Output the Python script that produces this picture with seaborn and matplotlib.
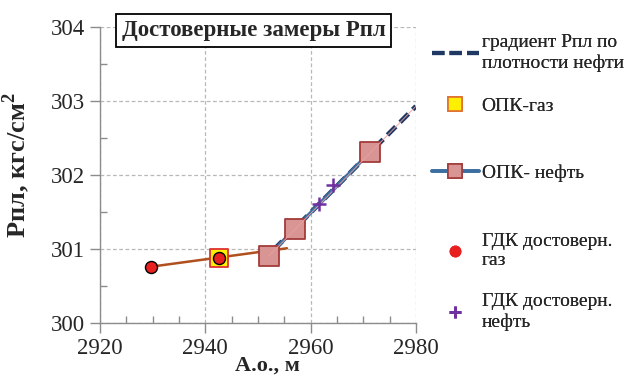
import matplotlib
matplotlib.use("Agg")
import matplotlib.pyplot as plt
import seaborn as sns
import numpy as np
import pandas as pd
from matplotlib.lines import Line2D
from matplotlib.ticker import MultipleLocator

# ---- data ----
gdk_gas_x = [2929.6, 2942.5]
gdk_gas_y = [300.76, 300.88]
gdk_oil_x = [2961.6, 2964.3]
gdk_oil_y = [301.61, 301.87]
opk_gas_x = [2942.5]
opk_gas_y = [300.88]
opk_oil_x = [2952.0, 2957.0, 2971.3]
opk_oil_y = [300.90, 301.27, 302.31]
gas_trend_x = [2929.6, 2955.5]
gas_trend_y = [300.76, 301.01]
gradient_x = [2953.0, 2980.0]
gradient_y = [300.99, 302.93]
oil_line_x = [2953.4, 2971.3]
oil_line_y = [301.01, 302.31]
oil_trend_x = [2952.0, 2980.0]
oil_trend_y = [300.90, 302.93]

sns.set_style("white")
plt.rcParams['font.family'] = ['Liberation Serif', 'DejaVu Serif']
plt.rcParams['mathtext.fontset'] = 'custom'
plt.rcParams['mathtext.rm'] = 'Liberation Serif'
plt.rcParams['mathtext.bf'] = 'Liberation Serif:bold'

fig = plt.figure(figsize=(6.26, 3.76), dpi=100)
ax = fig.add_axes([100/626, 53/376, 316/626, 296/376])

c_brown = '#B0501E'
c_blue = '#3C6E9F'
c_navy = '#1F3864'
c_pink = '#D99594'
c_pink_edge = '#A33B3B'

sns.lineplot(x=gas_trend_x, y=gas_trend_y, ax=ax, color=c_brown, lw=1.8, zorder=3)
sns.lineplot(x=gradient_x, y=gradient_y, ax=ax, color=c_navy, lw=3.4,
             linestyle=(0, (2.5, 1.3)), zorder=3)
sns.lineplot(x=oil_line_x, y=oil_line_y, ax=ax, color=c_blue, lw=2.6, zorder=4)
sns.scatterplot(x=opk_oil_x, y=opk_oil_y, ax=ax, marker='s', s=190,
                color=c_pink, edgecolor=c_pink_edge, linewidth=1.3, zorder=5)
sns.lineplot(x=oil_trend_x, y=oil_trend_y, ax=ax, color='#E8A0A0', lw=0.6, zorder=6)
sns.scatterplot(x=opk_gas_x, y=opk_gas_y, ax=ax, marker='s', s=150,
                color='#FFEF00', edgecolor='#E03030', linewidth=1.3, zorder=6)
sns.scatterplot(x=gdk_gas_x, y=gdk_gas_y, ax=ax, marker='o', s=75,
                color='#E82020', edgecolor='black', linewidth=1.0, zorder=7)
sns.scatterplot(x=gdk_oil_x, y=gdk_oil_y, ax=ax, marker='+', s=110,
                color='#7030A0', linewidth=1.8, zorder=7)

ax.set_xlim(2920, 2980)
ax.set_ylim(300, 304)
ax.xaxis.set_major_locator(MultipleLocator(20))
ax.xaxis.set_minor_locator(MultipleLocator(5))
ax.yaxis.set_major_locator(MultipleLocator(1))
ax.yaxis.set_minor_locator(MultipleLocator(0.5))
ax.grid(True, which='major', linestyle=(0, (3, 2)), color='#B8B8B8', lw=0.9)
for s in ['top', 'right']:
    ax.spines[s].set_visible(False)
for s in ['left', 'bottom']:
    ax.spines[s].set_color('#8C8C8C')
    ax.spines[s].set_linewidth(1.0)
ax.tick_params(which='major', direction='out', length=7, width=1, color='#8C8C8C',
               labelsize=16.5, pad=4, left=True, bottom=True)
ax.tick_params(which='minor', direction='in', length=5, width=1, color='#8C8C8C',
               left=True, bottom=True)

ax.set_ylabel('Рпл, кгс/см$^\\mathbf{2}$', fontsize=19, fontweight='bold')
ax.yaxis.set_label_coords((32 - 100) / 316, (323 - 165) / 296)
ax.set_xlabel('А.о., м', fontsize=16, fontweight='bold')
ax.xaxis.set_label_coords((267 - 100) / 316, (323 - 356) / 296)

ax.text((253.5 - 100) / 316, (323 - 30.5) / 296, 'Достоверные замеры Рпл',
        transform=ax.transAxes, ha='center', va='center', fontsize=16.5,
        fontweight='bold', zorder=10,
        bbox=dict(boxstyle='square,pad=0.25', facecolor='white', edgecolor='black', lw=1.3))

# legend entries (individually positioned like the original)
entries = [
    (Line2D([], [], color=c_navy, lw=3.0, linestyle=(0, (3, 1.2))),
     'градиент Рпл по\nплотности нефти', 53),
    (Line2D([], [], marker='s', ls='none', markersize=10, markerfacecolor='#FFEF00',
            markeredgecolor='#E07030', markeredgewidth=1.2), 'ОПК-газ', 106),
    (Line2D([], [], color=c_blue, lw=2.6, marker='s', markersize=10,
            markerfacecolor=c_pink, markeredgecolor=c_pink_edge, markeredgewidth=1.2),
     'ОПК- нефть', 173),
    (Line2D([], [], marker='o', ls='none', markersize=7.5, markerfacecolor='#E82020',
            markeredgecolor='#E82020'), 'ГДК достоверн.\nгаз', 251),
    (Line2D([], [], marker='+', ls='none', markersize=9, color='#7030A0',
            markeredgewidth=2), 'ГДК достоверн.\nнефть', 312),
]
for h, lab, ypx in entries:
    lg = fig.legend([h], [lab], loc='center left',
                    bbox_to_anchor=(432/626, 1 - ypx/376), frameon=False,
                    fontsize=14, handlelength=2.4, handletextpad=0.15,
                    borderpad=0, borderaxespad=0)
    fig.add_artist(lg)

fig.savefig('out.png', dpi=100)
